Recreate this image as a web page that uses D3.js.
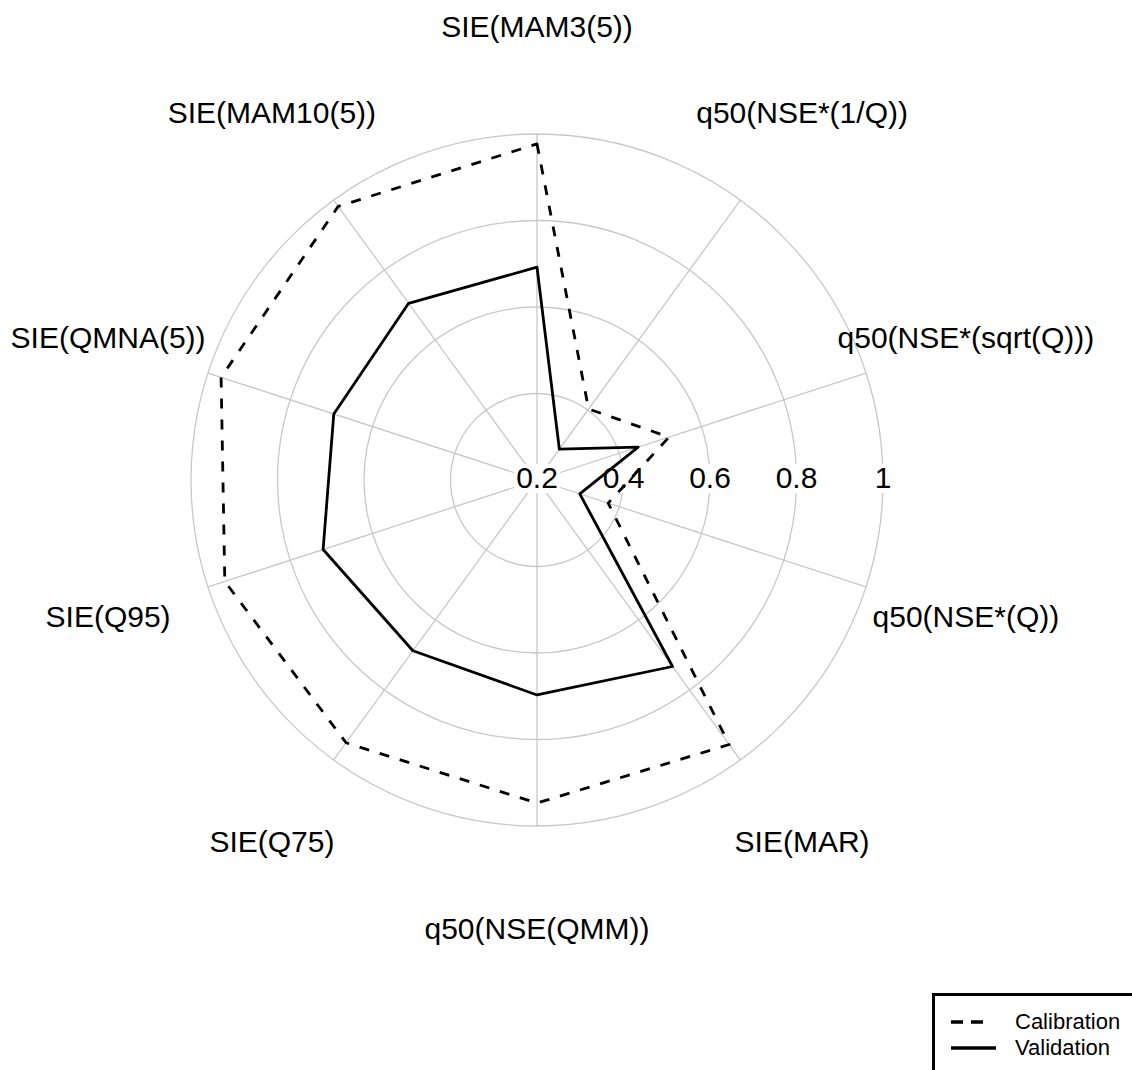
<!DOCTYPE html>
<html>
<head>
<meta charset="utf-8">
<script src="https://cdn.jsdelivr.net/npm/d3@7"></script>
<style>
  html, body { margin: 0; padding: 0; background: #fff; }
  svg { display: block; }
  text { font-family: "Liberation Sans", Arial, sans-serif; fill: #000; }
</style>
</head>
<body>
<svg id="chart" width="1132" height="1070"></svg>
<script>
// ---- data ----
const categories = [
  "SIE(MAM3(5))", "q50(NSE*(1/Q))", "q50(NSE*(sqrt(Q)))", "q50(NSE*(Q))",
  "SIE(MAR)", "q50(NSE(QMM))", "SIE(Q75)", "SIE(Q95)", "SIE(QMNA(5))", "SIE(MAM10(5))"
];
const calibration = [0.977, 0.403, 0.521, 0.373, 0.956, 0.947, 0.951, 0.959, 0.968, 0.982];
const validation  = [0.692, 0.288, 0.446, 0.304, 0.733, 0.697, 0.688, 0.720, 0.694, 0.705];
const tickValues = [0.2, 0.4, 0.6, 0.8, 1.0];
const tickLabels = ["0.2", "0.4", "0.6", "0.8", "1"];
const seriesNames = ["Calibration", "Validation"];

// ---- layout ----
const svg = d3.select("#chart");
const cx = 537, cy = 480;
const rMax = 346;
const r = d3.scaleLinear().domain([0.2, 1.0]).range([0, rMax]);
const angle = d3.scaleLinear().domain([0, categories.length]).range([0, 2 * Math.PI]);

const g = svg.append("g").attr("transform", `translate(${cx},${cy})`);

// grid circles
g.append("g").selectAll("circle")
  .data(tickValues.filter(v => v > 0.2))
  .join("circle")
  .attr("r", d => r(d))
  .attr("fill", "none")
  .attr("stroke", "#c8c8c8")
  .attr("stroke-width", 1.3);

// spokes
g.append("g").selectAll("line")
  .data(categories)
  .join("line")
  .attr("x1", 0).attr("y1", 0)
  .attr("x2", (d, i) => r(1.0) * Math.sin(angle(i)))
  .attr("y2", (d, i) => -r(1.0) * Math.cos(angle(i)))
  .attr("stroke", "#c8c8c8")
  .attr("stroke-width", 1.3);

// tick labels with white background
const tickG = g.append("g").selectAll("g")
  .data(tickValues)
  .join("g")
  .attr("transform", d => `translate(${r(d)},0)`);
tickG.each(function(d, i) {
  const sel = d3.select(this);
  const t = sel.append("text")
    .attr("text-anchor", "middle")
    .attr("dominant-baseline", "central")
    .attr("y", -3)
    .style("font-size", "30px")
    .text(tickLabels[i]);
  const bb = t.node().getBBox();
  sel.insert("rect", "text")
    .attr("x", bb.x - 2).attr("y", -16)
    .attr("width", bb.width + 4).attr("height", 29)
    .attr("fill", "#fff");
});

// axis labels
const labelR = 451;
g.append("g").selectAll("text")
  .data(categories)
  .join("text")
  .attr("x", (d, i) => labelR * Math.sin(angle(i)))
  .attr("y", (d, i) => -labelR * Math.cos(angle(i)))
  .attr("dy", -3)
  .attr("text-anchor", "middle")
  .attr("dominant-baseline", "central")
  .style("font-size", "30px")
  .text(d => d);

// series
const radial = d3.lineRadial()
  .angle((d, i) => angle(i))
  .radius(d => r(d))
  .curve(d3.curveLinearClosed);

g.append("path")
  .datum(calibration)
  .attr("d", radial)
  .attr("fill", "none")
  .attr("stroke", "#000")
  .attr("stroke-width", 2.8)
  .attr("stroke-dasharray", "10,11")
  .attr("stroke-linejoin", "round");

g.append("path")
  .datum(validation)
  .attr("d", radial)
  .attr("fill", "none")
  .attr("stroke", "#000")
  .attr("stroke-width", 2.8)
  .attr("stroke-linejoin", "round");

// legend
const lg = svg.append("g");
lg.append("rect")
  .attr("x", 933.5).attr("y", 994.5)
  .attr("width", 260).attr("height", 120)
  .attr("fill", "#fff")
  .attr("stroke", "#000")
  .attr("stroke-width", 3);
const legendStyles = [
  { dash: "12,8", y: 1022 },
  { dash: null, y: 1048 }
];
seriesNames.forEach((name, i) => {
  const s = legendStyles[i];
  const ln = lg.append("line")
    .attr("x1", 951).attr("x2", i === 0 ? 986 : 996)
    .attr("y1", s.y).attr("y2", s.y)
    .attr("stroke", "#000")
    .attr("stroke-width", 3.4);
  if (s.dash) ln.attr("stroke-dasharray", s.dash);
  lg.append("text")
    .attr("x", 1015).attr("y", s.y)
    .attr("dy", -1)
    .attr("dominant-baseline", "central")
    .style("font-size", "22px")
    .text(name);
});
</script>
</body>
</html>
